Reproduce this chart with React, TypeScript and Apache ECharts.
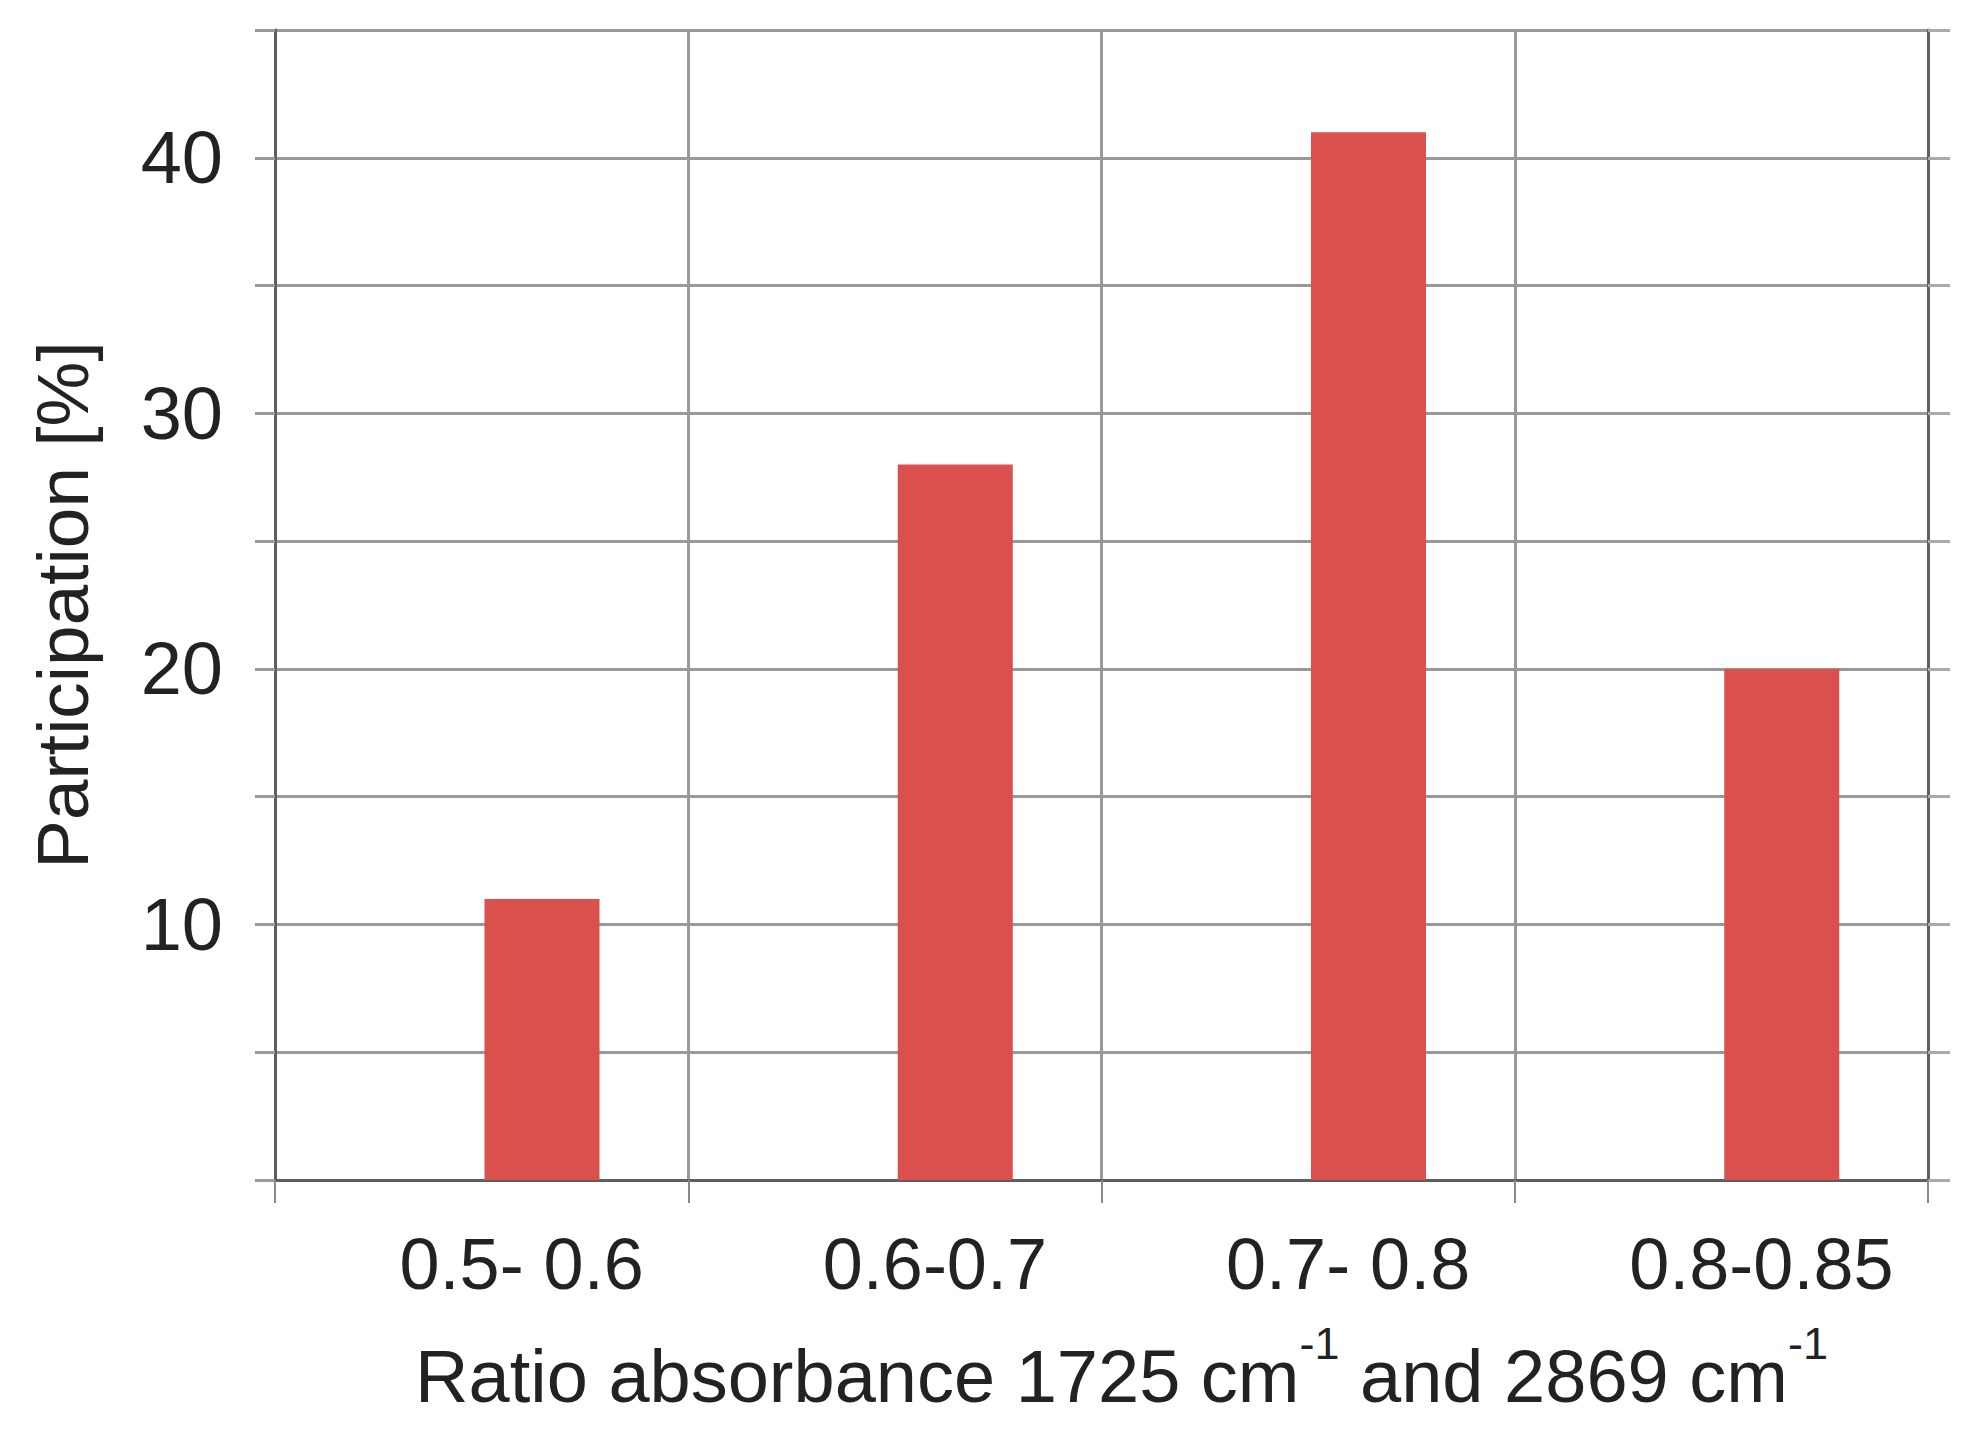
import React, { useEffect, useRef } from "react";
import * as echarts from "echarts";

const categories = ["0.5- 0.6", "0.6-0.7", "0.7- 0.8", "0.8-0.85"];
const participation = [11, 28, 41, 20];
const emptySeries = [null, null, null, null];
const yTickLabels = [10, 20, 30, 40];

const FONT = "'Liberation Sans', Arial, sans-serif";

export default function App() {
  const ref = useRef<HTMLDivElement>(null);
  useEffect(() => {
    document.body.style.margin = "0";
    document.body.style.overflow = "hidden";
    const chart = echarts.init(ref.current!, null, { renderer: "svg" });
    const gridColor = "#999999";
    const axisColor = "#5e5e5e";
    chart.setOption({
      animation: false,
      backgroundColor: "#ffffff",
      textStyle: { fontFamily: FONT },
      grid: { left: 275, right: 49, top: 30, bottom: 253, containLabel: false },
      xAxis: {
        type: "category",
        data: categories,
        boundaryGap: true,
        axisLine: { show: true, lineStyle: { color: axisColor, width: 3 } },
        axisTick: { show: true, length: 23, interval: 0, lineStyle: { color: "#888", width: 2 } },
        splitLine: { show: true, interval: 0, lineStyle: { color: gridColor, width: 3 } },
        axisLabel: {
          interval: 0,
          fontSize: 72,
          color: "#222",
          fontFamily: FONT,
          margin: 48,
          padding: [0, 0, 0, 80],
        },
        name: "{t|Ratio absorbance 1725 cm}{s|-1}{t| and 2869 cm}{s|-1}",
        nameLocation: "middle",
        nameGap: 141,
        nameTextStyle: {
          padding: [0, 0, 0, 40],
          rich: {
            t: { fontSize: 74, color: "#222", fontFamily: FONT, lineHeight: 92, verticalAlign: "bottom" },
            s: { fontSize: 45, color: "#222", fontFamily: FONT, lineHeight: 92, verticalAlign: "top" },
          },
        },
      },
      yAxis: [
        {
          type: "value",
          min: 0,
          max: 45,
          interval: 5,
          axisLine: { show: true, lineStyle: { color: axisColor, width: 3 } },
          axisTick: { show: true, length: 20, lineStyle: { color: "#999", width: 3 } },
          splitLine: { show: true, lineStyle: { color: gridColor, width: 3 } },
          axisLabel: {
            fontSize: 74,
            color: "#222",
            fontFamily: FONT,
            margin: 52,
            formatter: (v: number) => (yTickLabels.indexOf(v) >= 0 ? String(v) : ""),
          },
          name: "Participation [%]",
          nameLocation: "middle",
          nameGap: 176,
          nameTextStyle: { fontSize: 73, color: "#222", fontFamily: FONT },
        },
        {
          type: "value",
          position: "right",
          min: 0,
          max: 45,
          interval: 5,
          axisLine: { show: true, lineStyle: { color: axisColor, width: 3 } },
          axisTick: { show: true, length: 22, lineStyle: { color: "#aaa", width: 3 } },
          splitLine: { show: false },
          axisLabel: { show: false },
        },
      ],
      series: [
        {
          type: "bar",
          data: emptySeries,
          barWidth: 115,
          barGap: "5%",
          silent: true,
        },
        {
          type: "bar",
          data: participation,
          barWidth: 115,
          barGap: "5%",
          itemStyle: { color: "#DA504D" },
        },
      ],
    });
    return () => chart.dispose();
  }, []);
  return <div ref={ref} style={{ width: 1977, height: 1433 }} />;
}
